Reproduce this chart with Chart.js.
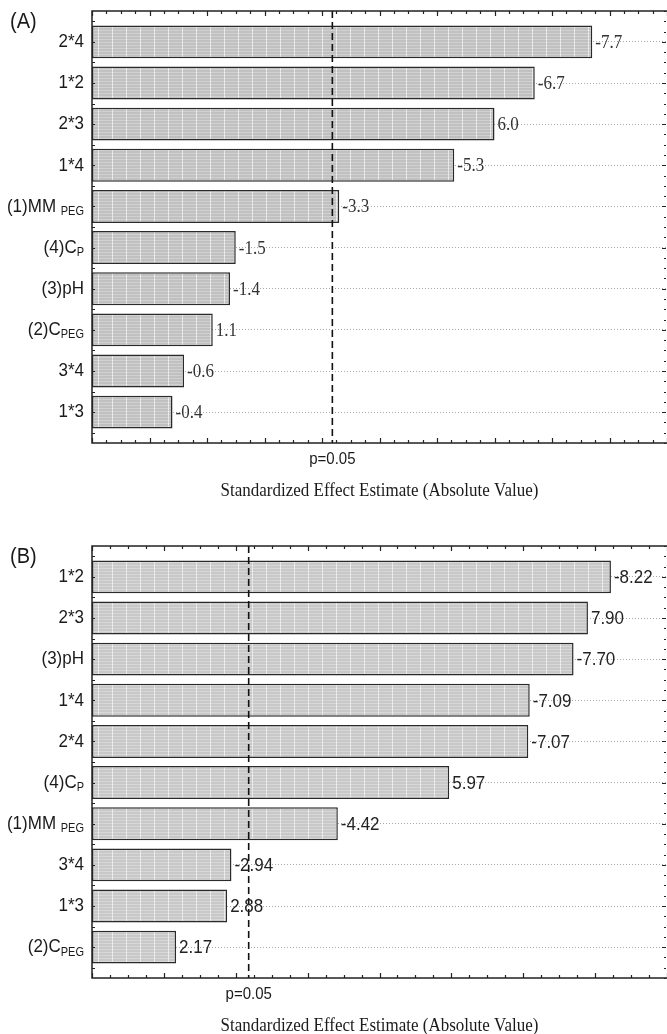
<!DOCTYPE html>
<html>
<head>
<meta charset="utf-8">
<script src="https://cdn.jsdelivr.net/npm/chart.js@4.4.1/dist/chart.umd.min.js"></script>
<style>
html, body { margin: 0; padding: 0; background: #fff; }
body { width: 667px; height: 1034px; position: relative; overflow: hidden; }
canvas { position: absolute; left: 0; }
</style>
</head>
<body>
<canvas id="chartA" width="667" height="517" style="top:0"></canvas>
<canvas id="chartB" width="667" height="517" style="top:517px"></canvas>
<script>
// Pareto chart data ("_" marks the start of a subscript)
const labelsA = ['2*4', '1*2', '2*3', '1*4', '(1)MM _PEG', '(4)C_P', '(3)pH', '(2)C_PEG', '3*4', '1*3'];
const effectsA = [-7.7, -6.7, 6.0, -5.3, -3.3, -1.5, -1.4, 1.1, -0.6, -0.4];
const xRangeA = [-1, 9];

const labelsB = ['1*2', '2*3', '(3)pH', '1*4', '2*4', '(4)C_P', '(1)MM _PEG', '3*4', '1*3', '(2)C_PEG'];
const effectsB = [-8.22, 7.90, -7.70, -7.09, -7.07, 5.97, -4.42, -2.94, 2.88, 2.17];
const xRangeB = [1, 9];

const pCrit = 3.18;   // p=0.05 reference line
const xTitle = 'Standardized Effect Estimate (Absolute Value)';

const SANS = '"Liberation Sans", Arial, sans-serif';
const SERIF = '"Liberation Serif", "Times New Roman", serif';
const STRETCH = 1.12; // the original figure is a bit taller than wide

function barPattern(ctx, base) {
    const c = document.createElement('canvas');
    c.width = 14; c.height = 3;
    const g = c.getContext('2d');
    g.fillStyle = base; g.fillRect(0, 0, 14, 3);
    g.fillStyle = 'rgba(255,255,255,0.28)'; g.fillRect(0, 0, 14, 1);
    g.fillStyle = 'rgba(255,255,255,0.6)'; g.fillRect(0, 0, 1, 3);
    return ctx.createPattern(c, 'repeat');
}

function tallText(ctx, text, x, y) {
    ctx.save();
    ctx.translate(x, y);
    ctx.scale(1, STRETCH);
    ctx.fillText(text, 0, 0);
    ctx.restore();
}

// frame, inward ticks and p=0.05 line
const framePlugin = {
    id: 'frame',
    afterDatasetsDraw(chart) {
        const { ctx, chartArea: a, scales: { x, y } } = chart;
        ctx.save();
        const px = x.getPixelForValue(pCrit);
        ctx.strokeStyle = '#111';
        ctx.lineWidth = 1.6;
        ctx.setLineDash([7, 4]);
        ctx.beginPath(); ctx.moveTo(px, a.top); ctx.lineTo(px, a.bottom); ctx.stroke();
        ctx.setLineDash([]);

        ctx.strokeStyle = '#222';
        ctx.lineWidth = 1.5;
        ctx.beginPath();
        ctx.moveTo(a.right, a.top); ctx.lineTo(a.left, a.top);
        ctx.lineTo(a.left, a.bottom); ctx.lineTo(a.right, a.bottom);
        ctx.stroke();

        ctx.lineWidth = 1.2;
        ctx.beginPath();
        for (let v = x.min; v <= x.max + 1e-9; v += 0.25) {
            const xx = Math.round(x.getPixelForValue(v)) + 0.5;
            const len = Math.abs(v - Math.round(v)) < 1e-6 ? 5 : 3;
            ctx.moveTo(xx, a.top); ctx.lineTo(xx, a.top + len);
            ctx.moveTo(xx, a.bottom); ctx.lineTo(xx, a.bottom - len);
        }
        const n = chart.data.labels.length;
        for (let v = -0.5; v <= n - 0.5; v += 0.5) {
            const yy = Math.round(y.getPixelForValue(v)) + 0.5;
            ctx.moveTo(a.left, yy); ctx.lineTo(a.left + 3, yy);
        }
        for (let v = -0.75; v <= n - 0.25; v += 0.25) {
            const yy = Math.round(y.getPixelForValue(v)) + 0.5;
            const len = Math.abs(v - Math.round(v)) < 1e-6 ? 4 : 2;
            ctx.moveTo(a.right - 1, yy); ctx.lineTo(a.right - 1 - len, yy);
        }
        ctx.stroke();
        ctx.restore();
    }
};

// category labels with subscripts, value labels, titles
const textPlugin = {
    id: 'texts',
    afterDraw(chart, args, o) {
        const { ctx, chartArea: a, scales: { x, y } } = chart;
        ctx.save();
        ctx.fillStyle = '#1a1a1a';
        ctx.textBaseline = 'middle';

        chart.data.labels.forEach((lab, i) => {
            const yy = y.getPixelForValue(i);
            const [main, sub] = lab.split('_');
            ctx.font = '17px ' + SANS;
            const wMain = ctx.measureText(main).width;
            ctx.font = '11px ' + SANS;
            const wSub = sub ? ctx.measureText(sub).width : 0;
            const right = a.left - 8;
            ctx.textAlign = 'left';
            ctx.font = '17px ' + SANS;
            tallText(ctx, main, right - wMain - wSub, yy);
            if (sub) {
                ctx.font = '11px ' + SANS;
                tallText(ctx, sub, right - wSub, yy + 5);
            }
        });

        const meta = chart.getDatasetMeta(0);
        ctx.textAlign = 'left';
        ctx.fillStyle = o.valueColor;
        ctx.font = o.valueFont;
        meta.data.forEach((bar, i) => {
            tallText(ctx, o.effects[i].toFixed(o.decimals), bar.x + 3, bar.y + 1);
        });

        ctx.fillStyle = '#1a1a1a';
        ctx.textAlign = 'center';
        ctx.font = '15px ' + SANS;
        tallText(ctx, 'p=0.05', x.getPixelForValue(pCrit), a.bottom + 16);
        ctx.font = '17px ' + SERIF;
        tallText(ctx, xTitle, (a.left + a.right) / 2, a.bottom + 48);

        ctx.textAlign = 'left';
        ctx.textBaseline = 'alphabetic';
        ctx.font = '20px ' + SANS;
        tallText(ctx, o.tag, 10, a.top + 17);
        ctx.restore();
    }
};

function makeChart(id, tag, labels, effects, xRange, decimals, valueFont, valueColor, fill, padTop, padBottom) {
    const canvas = document.getElementById(id);
    const ctx = canvas.getContext('2d');
    return new Chart(ctx, {
        type: 'bar',
        data: {
            labels: labels,
            datasets: [{
                data: effects.map((v, i) => ({ x: Math.abs(v), y: i })),
                base: xRange[0],
                backgroundColor: barPattern(ctx, fill),
                borderColor: '#2a2a2a',
                borderWidth: 1.5,
                borderSkipped: false,
                categoryPercentage: 0.8,
                barPercentage: 1
            }]
        },
        options: {
            indexAxis: 'y',
            responsive: false,
            animation: false,
            events: [],
            layout: { padding: { left: 92, right: 0, top: padTop, bottom: padBottom } },
            plugins: {
                legend: { display: false },
                tooltip: { enabled: false },
                texts: { tag: tag, effects: effects, decimals: decimals, valueFont: valueFont, valueColor: valueColor }
            },
            scales: {
                x: {
                    type: 'linear',
                    min: xRange[0],
                    max: xRange[1],
                    offset: false,
                    ticks: { display: false },
                    grid: { display: false, offset: false },
                    border: { display: false },
                    afterFit: s => { s.height = 0; }
                },
                y: {
                    type: 'linear',
                    reverse: true,
                    offset: false,
                    min: -0.75,
                    max: labels.length - 0.25,
                    afterBuildTicks: s => { s.ticks = labels.map((l, i) => ({ value: i })); },
                    ticks: { display: false },
                    grid: { color: '#a8a8a8', lineWidth: 1, drawTicks: false, offset: false },
                    border: { display: false, dash: [1, 2] },
                    afterFit: s => { s.width = 0; }
                }
            }
        },
        plugins: [framePlugin, textPlugin]
    });
}

makeChart('chartA', '(A)', labelsA, effectsA, xRangeA, 1, '17px ' + SERIF, '#333', '#c0c0c0', 11, 74);
makeChart('chartB', '(B)', labelsB, effectsB, xRangeB, 2, '17px ' + SANS, '#222', '#c8c8c8', 29, 56);
</script>
</body>
</html>
